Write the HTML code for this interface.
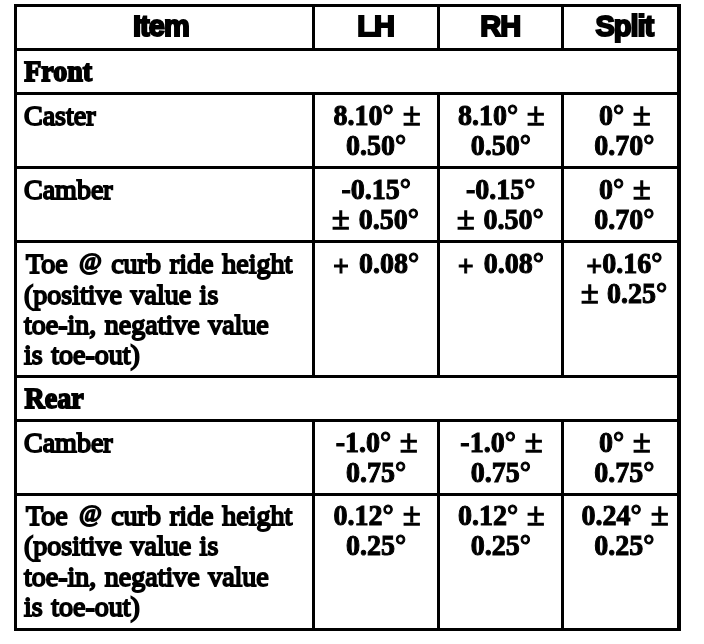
<!DOCTYPE html>
<html><head><meta charset="utf-8"><title>Alignment</title>
<style>
html,body{margin:0;padding:0;background:#fff;}
body{width:704px;height:644px;position:relative;overflow:hidden;font-family:"Liberation Serif",serif;color:#000;filter:grayscale(1);}
.l{position:absolute;background:#000;}
.t{position:absolute;font-size:28px;line-height:30.5px;white-space:nowrap;-webkit-text-stroke:1.8px #000;}
.s{word-spacing:1.5px;line-height:30.2px;}
.at{display:inline-block;transform:scale(0.87,0.79);transform-origin:100% 17%;-webkit-text-stroke:2.3px #000;}
.v{text-align:center;width:140px;word-spacing:3px;font-weight:bold;-webkit-text-stroke:1.0px #000;line-height:28.2px;transform:scaleY(1.07);transform-origin:50% 0;}
.h{font-family:"Liberation Sans",sans-serif;font-weight:bold;text-align:center;width:140px;letter-spacing:-1.0px;font-size:29px;-webkit-text-stroke:2.0px #000;}
.b{font-weight:bold;-webkit-text-stroke:1.7px #000;transform:scaleY(1.04);transform-origin:0 80%;}
.pm{display:inline-block;font-weight:normal;-webkit-text-stroke:1.3px #000;transform:scale(1.14,1.07);transform-origin:50% 78%;}
.pl{position:relative;top:3.2px;}
</style></head><body>

<div class="l" style="left:14.1px;top:3.8px;width:666.5px;height:3.0px"></div>
<div class="l" style="left:14.1px;top:48px;width:666.5px;height:3.0px"></div>
<div class="l" style="left:14.1px;top:92px;width:666.5px;height:3.2px"></div>
<div class="l" style="left:14.1px;top:166.1px;width:666.5px;height:3.0px"></div>
<div class="l" style="left:14.1px;top:240.1px;width:666.5px;height:3.0px"></div>
<div class="l" style="left:14.1px;top:375px;width:666.5px;height:3.0px"></div>
<div class="l" style="left:14.1px;top:418.8px;width:666.5px;height:3.1px"></div>
<div class="l" style="left:14.1px;top:492.8px;width:666.5px;height:3.1px"></div>
<div class="l" style="left:14.1px;top:627.6px;width:666.5px;height:3.4px"></div>
<div class="l" style="left:14.1px;top:3.8px;width:3.0px;height:627.1px"></div>
<div class="l" style="left:677.1px;top:3.8px;width:3.5px;height:627.1px"></div>
<div class="l" style="left:312px;top:3.8px;width:3.1px;height:47.2px"></div>
<div class="l" style="left:312px;top:92px;width:3.1px;height:286.0px"></div>
<div class="l" style="left:312px;top:418.8px;width:3.1px;height:212.1px"></div>
<div class="l" style="left:436.9px;top:3.8px;width:3.1px;height:47.2px"></div>
<div class="l" style="left:436.9px;top:92px;width:3.1px;height:286.0px"></div>
<div class="l" style="left:436.9px;top:418.8px;width:3.1px;height:212.1px"></div>
<div class="l" style="left:561px;top:3.8px;width:3.4px;height:47.2px"></div>
<div class="l" style="left:561px;top:92px;width:3.4px;height:286.0px"></div>
<div class="l" style="left:561px;top:418.8px;width:3.4px;height:212.1px"></div>
<div class="t h" style="left:90.9px;top:11.1px">Item</div>
<div class="t h" style="left:305.6px;top:11.1px">LH</div>
<div class="t h" style="left:430.3px;top:11.1px">RH</div>
<div class="t h" style="left:554.3px;top:11.1px">Split</div>
<div class="t b" style="left:24.2px;top:56.7px">Front</div>
<div class="t s" style="left:24px;top:100.7px">Caster</div>
<div class="t s" style="left:24px;top:174.9px">Camber</div>
<div class="t s" style="left:24px;top:249.4px"><span style="margin-left:2px;word-spacing:1.9px">Toe <span class="at">@</span> curb ride height</span><br>(positive value is<br>toe-in, negative value<br>is toe-out)</div>
<div class="t b" style="left:24.6px;top:384.1px">Rear</div>
<div class="t s" style="left:24px;top:427.8px">Camber</div>
<div class="t s" style="left:24px;top:501.2px"><span style="margin-left:2px;word-spacing:1.9px">Toe <span class="at">@</span> curb ride height</span><br>(positive value is<br>toe-in, negative value<br>is toe-out)</div>
<div class="t v" style="left:306.2px;top:99.6px">8.10° <span class="pm">±</span><br>0.50°</div>
<div class="t v" style="left:430.8px;top:99.6px">8.10° <span class="pm">±</span><br>0.50°</div>
<div class="t v" style="left:554.4px;top:99.6px">0° <span class="pm">±</span><br>0.70°</div>
<div class="t v" style="left:306.2px;top:173.8px">-0.15°<br><span class="pm">±</span> 0.50°</div>
<div class="t v" style="left:430.8px;top:173.8px">-0.15°<br><span class="pm">±</span> 0.50°</div>
<div class="t v" style="left:554.4px;top:173.8px">0° <span class="pm">±</span><br>0.70°</div>
<div class="t v" style="left:306.2px;top:248.4px"><span class="pl">+</span> 0.08°</div>
<div class="t v" style="left:430.8px;top:248.4px"><span class="pl">+</span> 0.08°</div>
<div class="t v" style="left:554.4px;top:248.4px"><span class="pl">+</span>0.16°<br><span class="pm">±</span> 0.25°</div>
<div class="t v" style="left:306.2px;top:426.6px">-1.0° <span class="pm">±</span><br>0.75°</div>
<div class="t v" style="left:430.8px;top:426.6px">-1.0° <span class="pm">±</span><br>0.75°</div>
<div class="t v" style="left:554.4px;top:426.6px">0° <span class="pm">±</span><br>0.75°</div>
<div class="t v" style="left:306.2px;top:500.2px">0.12° <span class="pm">±</span><br>0.25°</div>
<div class="t v" style="left:430.8px;top:500.2px">0.12° <span class="pm">±</span><br>0.25°</div>
<div class="t v" style="left:554.4px;top:500.2px">0.24° <span class="pm">±</span><br>0.25°</div>
</body></html>
